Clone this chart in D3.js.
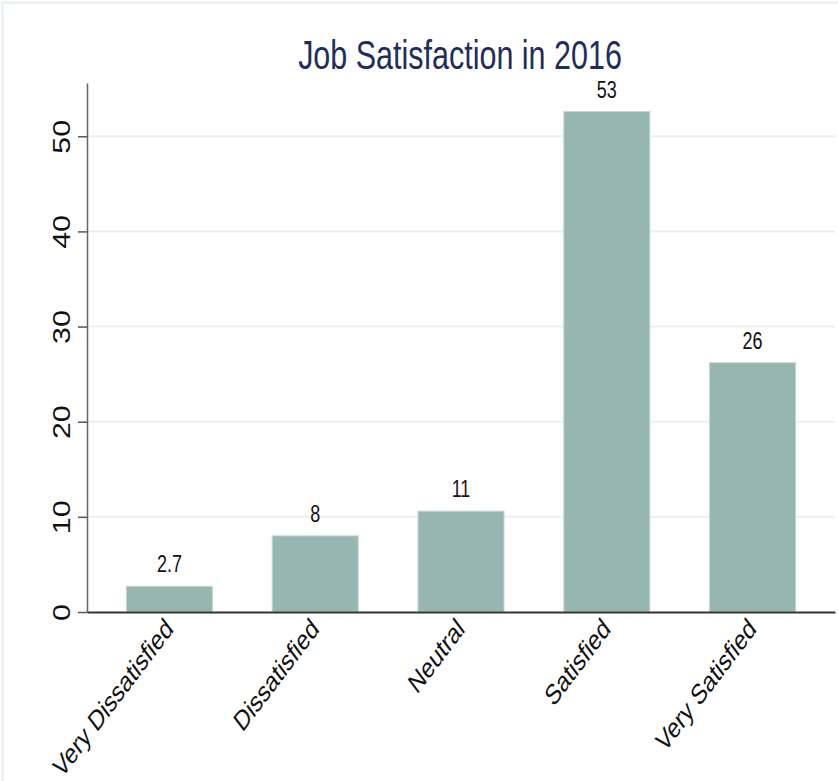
<!DOCTYPE html>
<html>
<head>
<meta charset="utf-8">
<script src="https://cdn.jsdelivr.net/npm/d3@7"></script>
<style>
  body { margin: 0; background: #fff; }
  text { font-family: Arial, "Liberation Sans", "DejaVu Sans", sans-serif; }
</style>
</head>
<body>
<svg id="chart"></svg>
<script>
// data
var categories = ["Very Dissatisfied", "Dissatisfied", "Neutral", "Satisfied", "Very Satisfied"];
var percents = [2.7, 8, 10.6, 52.6, 26.2];
var yTicks = [0, 10, 20, 30, 40, 50];
var title = "Job Satisfaction in 2016";

var width = 838;
var height = 781;
var stretch = 1.32; // original graph looks stretched vertically

var margin = {
	top: 83,
	left: 87,
	bottom: 169,
	right: 3
};

var svg = d3.select("#chart")
	.attr("width", width)
	.attr("height", height);

// outer graph region border
svg.append("rect")
	.attr("x", 2.5)
	.attr("y", 2.5)
	.attr("width", width + 20)
	.attr("height", height + 20)
	.attr("fill", "#fff")
	.attr("stroke", "#e6eef2")
	.attr("stroke-width", 2);

// scales
var xScale = d3.scaleBand()
	.domain(categories)
	.range([margin.left, width - margin.right])
	.paddingInner(0.41)
	.paddingOuter(0.27);

var yScale = d3.scaleLinear()
	.domain([0, 55.6])
	.range([height - margin.bottom, margin.top]);

// gridlines
svg.append("g")
	.selectAll("line")
	.data(yTicks.filter(function(d) { return d > 0; }))
	.join("line")
	.attr("x1", margin.left)
	.attr("x2", width - margin.right)
	.attr("y1", function(d) { return yScale(d); })
	.attr("y2", function(d) { return yScale(d); })
	.attr("stroke", "#e8f0f1")
	.attr("stroke-width", 2);

// bars
svg.append("g")
	.selectAll("rect")
	.data(percents)
	.join("rect")
	.attr("x", function(d, i) { return xScale(categories[i]); })
	.attr("y", function(d) { return yScale(d); })
	.attr("width", xScale.bandwidth())
	.attr("height", function(d) { return yScale(0) - yScale(d); })
	.attr("fill", "#98b6b0")
	.attr("stroke", "#c4d6d2")
	.attr("stroke-width", 1);

// value labels
var fmt = d3.format(".2~r");
svg.append("g")
	.selectAll("text")
	.data(percents)
	.join("text")
	.attr("text-anchor", "middle")
	.attr("font-size", 18)
	.attr("fill", "#111")
	.attr("transform", function(d, i) {
		return "translate(" + (xScale(categories[i]) + xScale.bandwidth() / 2) + "," + (yScale(d) - 14) + ") scale(1," + stretch + ")";
	})
	.text(function(d) { return fmt(d); });

// y axis
var yAxis = svg.append("g")
	.attr("transform", "translate(" + margin.left + ",0)")
	.call(d3.axisLeft(yScale).tickValues(yTicks).tickSize(9).tickSizeOuter(0));

yAxis.select(".domain").attr("stroke", "#666").attr("stroke-width", 1.5);
yAxis.selectAll(".tick line").attr("stroke", "#555").attr("stroke-width", 1.5);
yAxis.selectAll(".tick text")
	.attr("x", null)
	.attr("dy", null)
	.attr("font-size", 23)
	.attr("fill", "#111")
	.attr("text-anchor", "middle")
	.attr("transform", "translate(-17,0) scale(1," + stretch + ") rotate(-90)");

// x axis
var xAxis = svg.append("g")
	.attr("transform", "translate(0," + yScale(0) + ")")
	.call(d3.axisBottom(xScale).tickSize(0).tickSizeOuter(0));

xAxis.select(".domain").attr("stroke", "#333").attr("stroke-width", 2);
xAxis.selectAll(".tick text")
	.attr("y", null)
	.attr("dy", "0.72em")
	.attr("font-size", 21.5)
	.attr("fill", "#111")
	.attr("text-anchor", "end")
	.attr("transform", "translate(-6,4) scale(1," + stretch + ") rotate(-45)");

// title
svg.append("text")
	.attr("text-anchor", "middle")
	.attr("font-size", 30.5)
	.attr("fill", "#1f2d5c")
	.attr("transform", "translate(460,69) scale(1," + stretch + ")")
	.text(title);
</script>
</body>
</html>
